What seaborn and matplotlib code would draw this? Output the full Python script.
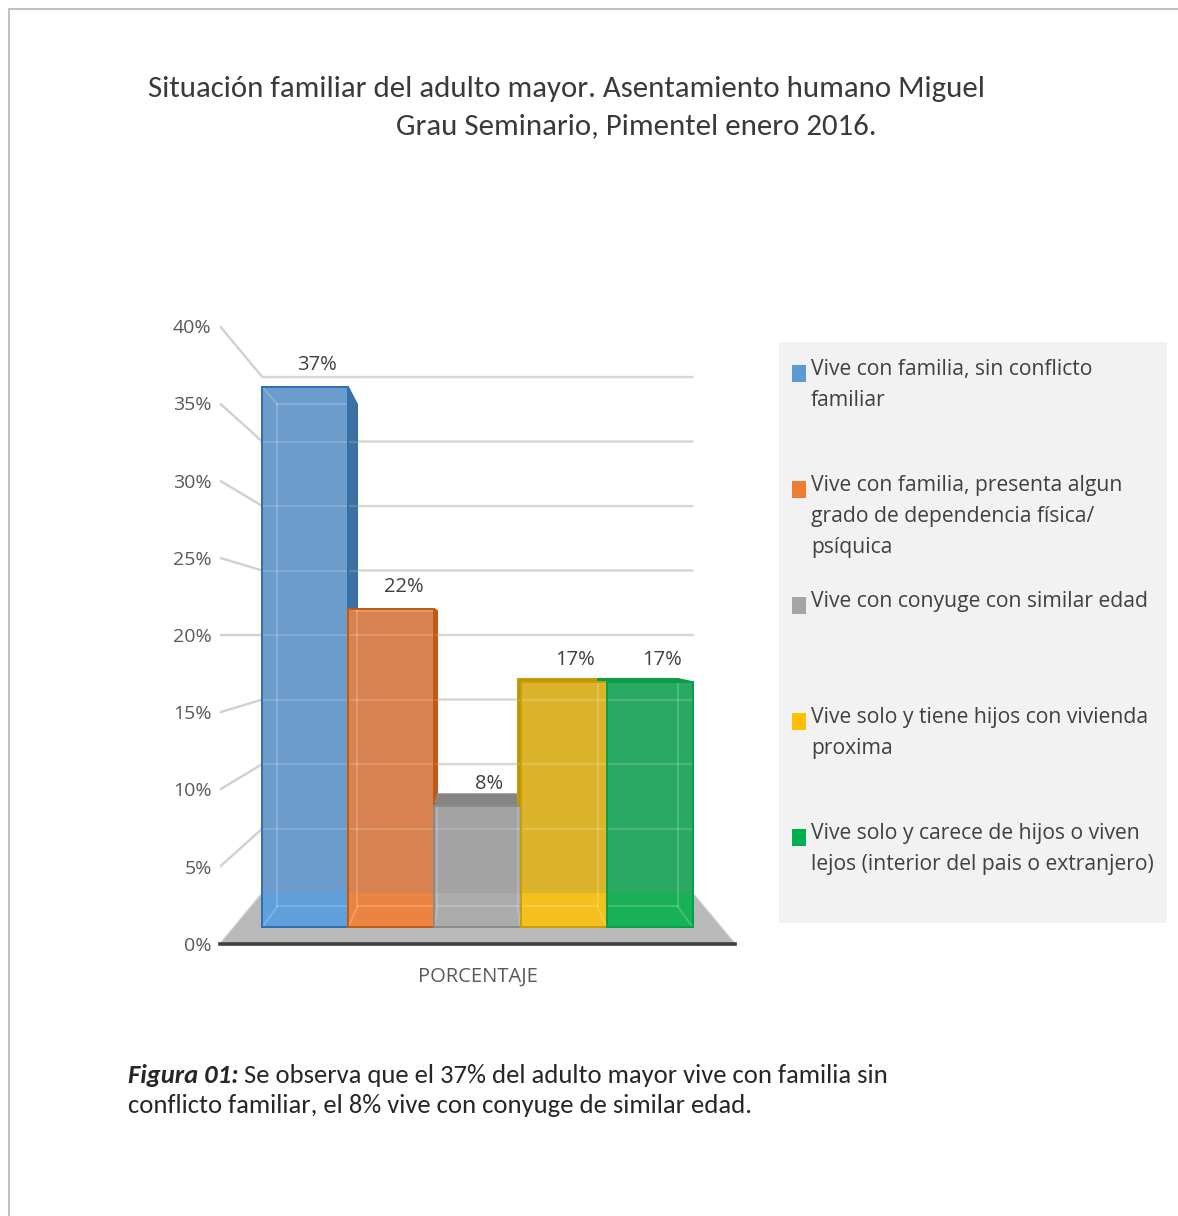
import matplotlib
matplotlib.use("Agg")
import matplotlib.pyplot as plt
import matplotlib.patches as mpatches
from matplotlib.lines import Line2D
from matplotlib import font_manager as fm
from matplotlib.font_manager import FontProperties
import seaborn as sns
import pandas as pd

# ------------------------------------------------------------------ data
categoria = "PORCENTAJE"
grupos = [
    "Vive con familia, sin conflicto familiar",
    "Vive con familia, presenta algun grado de dependencia física/psíquica",
    "Vive con conyuge con similar edad",
    "Vive solo y tiene hijos con vivienda proxima",
    "Vive solo y carece de hijos o viven lejos (interior del pais o extranjero)",
]
etiquetas_leyenda = [
    "Vive con familia, sin conflicto\nfamiliar",
    "Vive con familia, presenta algun\ngrado de dependencia física/\npsíquica",
    "Vive con conyuge con similar edad",
    "Vive solo y tiene hijos con vivienda\nproxima",
    "Vive solo y carece de hijos o viven\nlejos (interior del pais o extranjero)",
]
valores = [37.0, 21.8, 8.3, 16.8, 16.8]
ticks_y = [0, 5, 10, 15, 20, 25, 30, 35, 40]
etiquetas_y = ["0%", "5%", "10%", "15%", "20%", "25%", "30%", "35%", "40%"]
titulo = ["Situación familiar del adulto mayor. Asentamiento humano Miguel",
          "Grau Seminario, Pimentel enero 2016."]
nota_negrita = "Figura 01:"
nota = [" Se observa que el 37% del adulto mayor vive con familia sin",
        "conflicto familiar, el 8% vive con conyuge de similar edad."]

# ------------------------------------------------------------------ styles
color_leyenda = ["#5b9bd5", "#ed7d31", "#a5a5a5", "#ffc000", "#00b050"]
color_cara = ["#6c9ccb", "#d8834f", "#a3a3a3", "#dcb42c", "#2aa962"]
color_base = ["#5fa0dc", "#eb8443", "#ababab", "#f5c01e", "#17b157"]
color_borde = ["#2e6fb5", "#c55a11", "#8c8c8c", "#c9a000", "#05a04a"]
color_lado = ["#41709c", "#b65c20", "#858585", "#bb9412", "#17974d"]

names = {f.name for f in fm.fontManager.ttflist}
def pick(*cands):
    for n in cands:
        if n in names:
            return n
    return "DejaVu Sans"
F_CAL = pick("Carlito", "Lato", "Liberation Sans")
F_UI = pick("Open Sans", "Noto Sans", "DejaVu Sans")

sns.set_style("white")
plt.rcParams["font.family"] = [F_UI, "DejaVu Sans"]

W, H, DPI = 1178, 1216, 100
fig = plt.figure(figsize=(W / DPI, H / DPI), dpi=DPI)
fig.patch.set_facecolor("white")
renderer = fig.canvas.get_renderer()

def fx(px):
    return px / W

def fy(py):
    return 1 - py / H

def text_w(s, family, size, **kw):
    t = fig.text(0, 0, s, family=family, fontsize=size, **kw)
    w = t.get_window_extent(renderer).width
    t.remove()
    return w

# ------------------------------------------------------------------ perspective model
VX, VY = 0.0, 20.0                 # vanishing point (data units)
KB, KW, KF = 0.93, 0.884, 1.058    # bar back, back wall, front edge scale
HW = 0.5 / KW                      # floor half-width in bar-front plane

def P(x, y, k):
    return (VX + k * (x - VX), VY + k * (y - VY))

y_bottom = P(0, 0, KF)[1] - 0.01
ax = fig.add_axes([fx(220), fy(944), (735 - 220) / W, (944 - 314) / H])

df = pd.DataFrame({"categoria": [categoria] * len(grupos), "grupo": grupos, "valor": valores})
sns.barplot(data=df, x="categoria", y="valor", hue="grupo", hue_order=grupos,
            palette=color_cara, width=1.0, saturation=1, errorbar=None,
            legend=False, ax=ax, zorder=3, linewidth=1.4)
bars = sorted(ax.patches, key=lambda p: p.get_x())

ax.set_xlim(-KF * HW, KF * HW)
ax.set_ylim(y_bottom, 42)
ax.set_xlabel("")
ax.set_ylabel("")
ax.set_yticks([])
for s in ["left", "right", "top"]:
    ax.spines[s].set_visible(False)
ax.spines["bottom"].set_color("#404040")
ax.spines["bottom"].set_linewidth(2.6)
ax.spines["bottom"].set_zorder(2.5)
ax.tick_params(axis="x", length=0, pad=16, labelsize=14.5, labelcolor="#595959")

# floor
floor = mpatches.Polygon([P(-HW, 0, KF), P(HW, 0, KF), P(HW, 0, KW), P(-HW, 0, KW)],
                         closed=True, facecolor="#b9b9b9", edgecolor="#c8c8c8",
                         linewidth=1.0, zorder=1)
ax.add_patch(floor)

# back wall + left wall gridlines
for v in ticks_y[1:]:
    xa, ya = P(-HW, v, KW)
    xb, yb = P(HW, v, KW)
    xf, yf = P(-HW, v, KF)
    ax.add_line(Line2D([xf, xa, xb], [yf, ya, yb], color="#d0d0d0", lw=1.7,
                       zorder=1.5, solid_joinstyle="miter"))
    ax.add_line(Line2D([xa, xb], [ya, yb], color="white", lw=1.5, alpha=0.15,
                       zorder=3.15))

# secondary axis carrying the percentage scale at the front-left edge
def a_eje(y):
    return VY + (y - VY) / KF

def de_eje(v):
    return VY + KF * (v - VY)

sec = ax.secondary_yaxis("left", functions=(a_eje, de_eje))
sec.set_yticks(ticks_y, labels=etiquetas_y)
sec.tick_params(length=0, pad=6, labelsize=14, labelcolor="#595959")
sec.spines["left"].set_visible(False)

# 3D faces of bars
y_fb = P(0, 0, KW)[1]
for i, p in enumerate(bars):
    x0, w, top = p.get_x(), p.get_width(), p.get_height()
    x1 = x0 + w
    p.set_edgecolor(color_borde[i])
    if x1 <= VX + 1e-9:
        side = [(x1, 0), (x1, top), P(x1, top, KB), P(x1, 0, KB)]
        ax.add_patch(mpatches.Polygon(side, closed=True, facecolor=color_lado[i],
                                      edgecolor=color_borde[i], lw=0.8, zorder=2))
    elif x0 >= VX - 1e-9:
        side = [(x0, 0), (x0, top), P(x0, top, KB), P(x0, 0, KB)]
        ax.add_patch(mpatches.Polygon(side, closed=True, facecolor=color_lado[i],
                                      edgecolor=color_borde[i], lw=0.8, zorder=2))
    if top < VY:
        tp = [(x0, top), (x1, top), P(x1, top, KB), P(x0, top, KB)]
        ax.add_patch(mpatches.Polygon(tp, closed=True, facecolor=color_lado[i],
                                      edgecolor=color_borde[i], lw=0.8, zorder=2))
    # brighter lower part (over the floor)
    ax.add_patch(mpatches.Rectangle((x0, 0), w, y_fb, facecolor=color_base[i],
                                    edgecolor="none", zorder=3.1))
    # back edges seen through the front face
    b00, b10, b11, b01 = P(x0, 0, KB), P(x1, 0, KB), P(x1, top, KB), P(x0, top, KB)
    segs = [[b00, b10], [b10, b11], [b11, b01], [b01, b00],
            [(x0, 0), b00], [(x1, 0), b10], [(x0, top), b01], [(x1, top), b11]]
    for s_ in segs:
        ln = Line2D([s_[0][0], s_[1][0]], [s_[0][1], s_[1][1]], color="white",
                    lw=1.3, alpha=0.2, zorder=3.2)
        ax.add_line(ln)
        ln.set_clip_path(p)
    ax.add_patch(mpatches.Rectangle((x0, 0), w, top, fill=False,
                                    edgecolor=color_borde[i], lw=1.4, zorder=3.3))
    ax.annotate(f"{valores[i]:.0f}%", xy=(x0 + w / 2, top), xytext=(8.6, 15.5),
                textcoords="offset points", ha="center", va="center",
                fontsize=14.5, color="#404040", zorder=4)

# ------------------------------------------------------------------ legend
lines_all = [ln for lab in etiquetas_leyenda for ln in lab.split("\n")]
w20 = max(text_w(ln, F_UI, 20) for ln in lines_all)
fs_leg = 20 * 343 / w20
fs_px = fs_leg * DPI / 72
fp = FontProperties(family=F_UI, size=fs_leg)
lw_, lh_, ld_ = renderer.get_text_width_height_descent("lp", fp, ismath=False)
asc = lh_ - ld_
ls = (31.0 - ld_) / asc
tmp = fig.text(0, 0, "Ag\nAg\nAg", fontproperties=fp, linespacing=ls)
h3 = tmp.get_window_extent(renderer).height
tmp.remove()

padded = []
for lab in etiquetas_leyenda:
    n = lab.count("\n") + 1
    padded.append(lab + "\n " * (3 - n))
handles = [mpatches.Patch(facecolor=c, edgecolor="none") for c in color_leyenda]
BP = 17
leg = fig.legend(handles, padded, loc="upper left",
                 bbox_to_anchor=(fx(779), fy(922), (1167 - 779) / W, (922 - 342) / H),
                 mode="expand", borderaxespad=0, borderpad=BP / fs_px,
                 handlelength=14 / fs_px, handleheight=0.7,
                 handletextpad=(811 - 779 - BP - 14) / fs_px,
                 labelspacing=(116 - h3) / fs_px, frameon=True, fancybox=False,
                 facecolor="#f2f2f2", edgecolor="none", framealpha=1,
                 prop=fp, labelcolor="#404040")
for t in leg.get_texts():
    t.set_linespacing(ls)

# ------------------------------------------------------------------ title & caption
ft = 20 * 838 / text_w(titulo[0], F_CAL, 20)
fig.text(fx(148), fy(97), titulo[0], family=F_CAL, fontsize=ft, color="#3a3a3a", va="baseline")
fig.text(fx(396), fy(134), titulo[1], family=F_CAL, fontsize=ft, color="#3a3a3a", va="baseline")

wb = text_w(nota_negrita, F_CAL, 20, weight="bold", style="italic")
wr = text_w(nota[0], F_CAL, 20)
fc = 20 * 759 / (wb + wr)
wb_px = wb * fc / 20
fig.text(fx(128), fy(1083), nota_negrita, family=F_CAL, fontsize=fc, weight="bold",
         style="italic", color="#262626", va="baseline")
fig.text(fx(128 + wb_px), fy(1083), nota[0], family=F_CAL, fontsize=fc,
         color="#262626", va="baseline")
fig.text(fx(128), fy(1113), nota[1], family=F_CAL, fontsize=fc, color="#262626",
         va="baseline")

# page border (top and left)
fig.add_artist(Line2D([fx(8.5), 1], [fy(8.5), fy(8.5)], transform=fig.transFigure,
                      color="#c0c0c0", lw=1.5))
fig.add_artist(Line2D([fx(8.5), fx(8.5)], [fy(8.5), 0], transform=fig.transFigure,
                      color="#c0c0c0", lw=1.5))

# ------------------------------------------------------------------ align legend squares with first line
fig.canvas.draw()
renderer = fig.canvas.get_renderer()
for patch, t in zip(leg.get_patches(), leg.get_texts()):
    bb = t.get_window_extent(renderer)
    base = bb.y1 - asc
    inv = patch.get_data_transform().inverted()
    lx0, ly0 = inv.transform((792, base - 7))
    lx1, ly1 = inv.transform((806, base + 10))
    patch.set_xy((lx0, ly0))
    patch.set_width(lx1 - lx0)
    patch.set_height(ly1 - ly0)

fig.savefig("out.png", dpi=DPI)
